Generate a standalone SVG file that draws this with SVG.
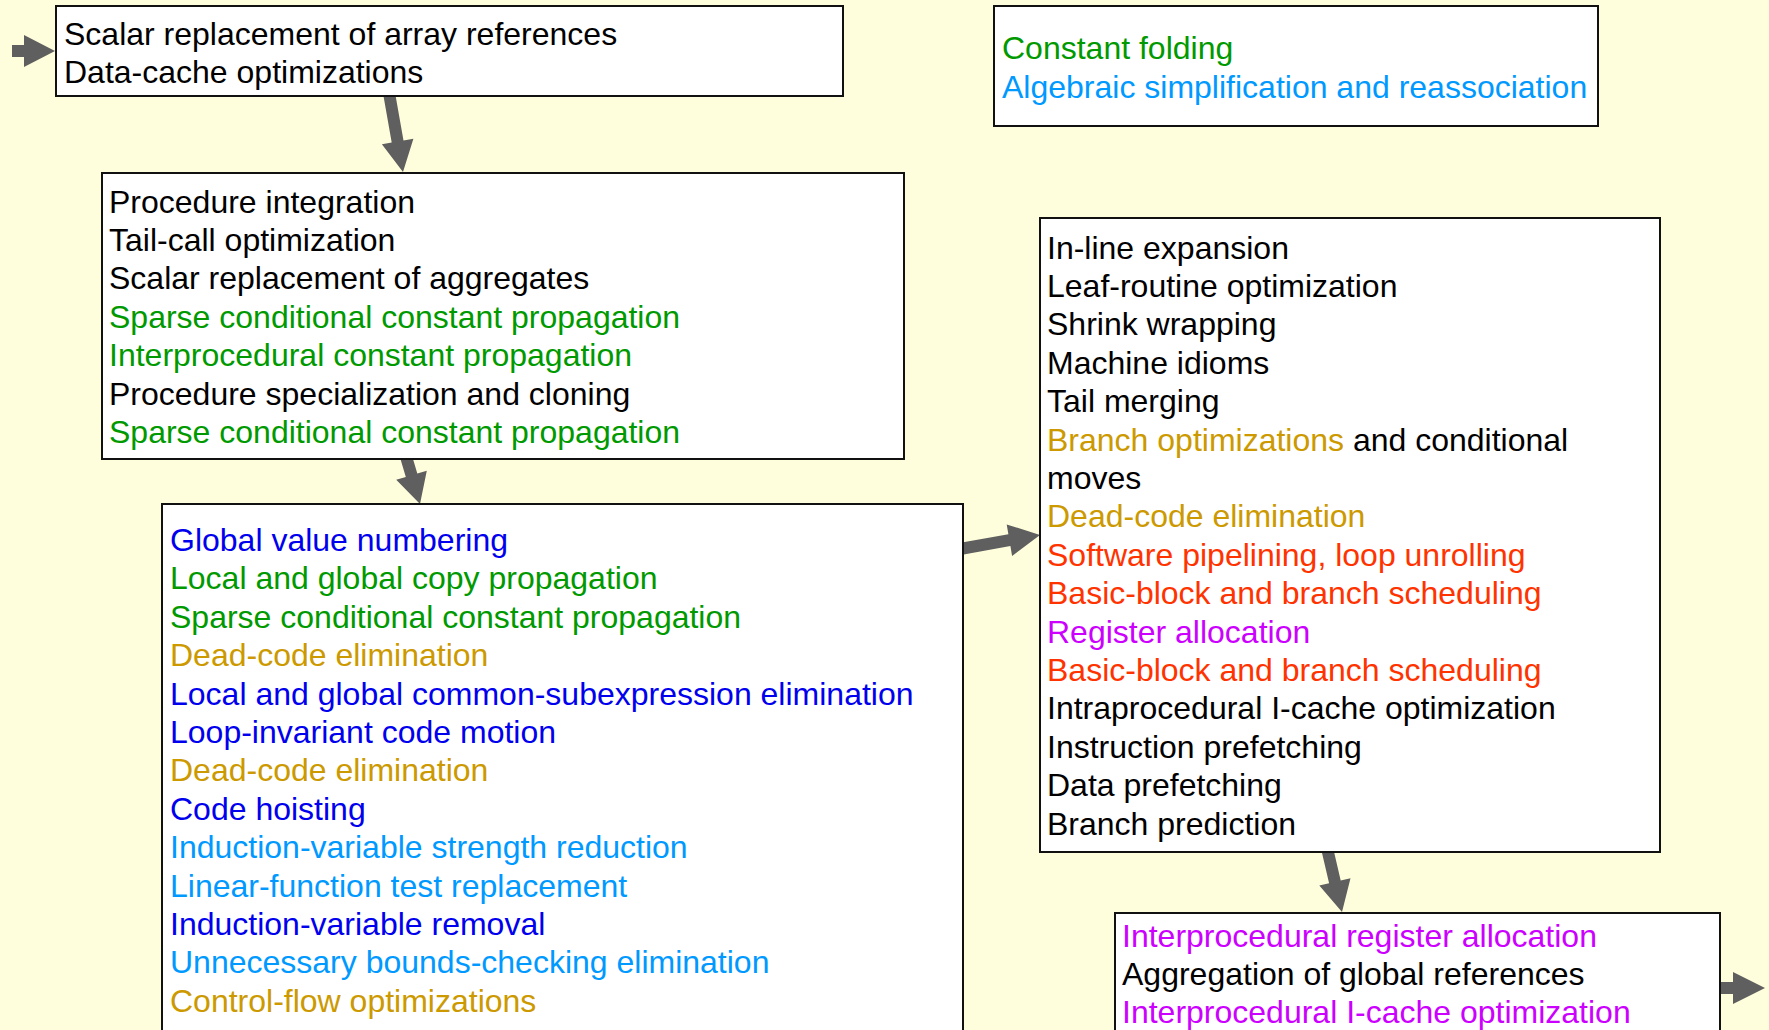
<svg xmlns="http://www.w3.org/2000/svg" width="1769" height="1030" viewBox="0 0 1769 1030">
<style>
.bg{fill:#FFFEDC}
.box{fill:#FFFFFF;stroke:#111111;stroke-width:2}
.arr{fill:#5F5F5F}
text{font-family:"Liberation Sans",Arial,sans-serif;font-size:32px;fill:#000000}
.g{fill:#009900}
.lb{fill:#0099FF}
.db{fill:#0000EE}
.o{fill:#CC9900}
.r{fill:#FF3300}
.m{fill:#CC00FF}
</style>
<rect class="bg" x="0" y="0" width="1769" height="1030"/>
<g id="connectors">
<polygon class="arr" points="12,45 24,45 24,35 55,51 24,67 24,57 12,57"/>
<polygon class="arr" points="394.4,89 403.5,140.5 413.4,138.7 403,172 381.9,144.3 391.7,142.5 382.6,91"/>
<polygon class="arr" points="411.3,453.3 417.3,473.5 426.8,470.7 420,504 396.2,479.7 405.8,476.9 399.8,456.7"/>
<polygon class="arr" points="959,543.1 1008.4,534.3 1006.7,524.4 1040,535 1012.1,556 1010.4,546.1 961,554.9"/>
<polygon class="arr" points="1332.8,846.6 1340.7,880.4 1350.5,878.2 1342,912 1319.3,885.5 1329.1,883.2 1321.2,849.4"/>
<polygon class="arr" points="1715,982 1733,982 1733,972 1765,988 1733,1004 1733,994 1715,994"/>
</g>
<g id="node-array-refs">
<rect class="box" x="56" y="6" width="787" height="90"/>
<text x="64" y="44.5">Scalar replacement of array references</text>
<text x="64" y="83">Data-cache optimizations</text>
</g>
<g id="node-constant-folding">
<rect class="box" x="994" y="6" width="604" height="120"/>
<text class="g" x="1002" y="58.5">Constant folding</text>
<text class="lb" x="1002" y="97.5">Algebraic simplification and reassociation</text>
</g>
<g id="node-procedure">
<rect class="box" x="102" y="173" width="802" height="286"/>
<text x="109" y="212.5">Procedure integration</text>
<text x="109" y="250.9">Tail-call optimization</text>
<text x="109" y="289.3">Scalar replacement of aggregates</text>
<text class="g" x="109" y="327.7">Sparse conditional constant propagation</text>
<text class="g" x="109" y="366.1">Interprocedural constant propagation</text>
<text x="109" y="404.5">Procedure specialization and cloning</text>
<text class="g" x="109" y="442.9">Sparse conditional constant propagation</text>
</g>
<g id="node-global">
<rect class="box" x="162" y="504" width="801" height="540"/>
<text class="db" x="170" y="551">Global value numbering</text>
<text class="g" x="170" y="589.4">Local and global copy propagation</text>
<text class="g" x="170" y="627.8">Sparse conditional constant propagation</text>
<text class="o" x="170" y="666.2">Dead-code elimination</text>
<text class="db" x="170" y="704.6">Local and global common-subexpression elimination</text>
<text class="db" x="170" y="743">Loop-invariant code motion</text>
<text class="o" x="170" y="781.4">Dead-code elimination</text>
<text class="db" x="170" y="819.8">Code hoisting</text>
<text class="lb" x="170" y="858.2">Induction-variable strength reduction</text>
<text class="lb" x="170" y="896.6">Linear-function test replacement</text>
<text class="db" x="170" y="935">Induction-variable removal</text>
<text class="lb" x="170" y="973.4">Unnecessary bounds-checking elimination</text>
<text class="o" x="170" y="1011.8">Control-flow optimizations</text>
</g>
<g id="node-inline">
<rect class="box" x="1040" y="218" width="620" height="634"/>
<text x="1047" y="258.5">In-line expansion</text>
<text x="1047" y="296.9">Leaf-routine optimization</text>
<text x="1047" y="335.3">Shrink wrapping</text>
<text x="1047" y="373.7">Machine idioms</text>
<text x="1047" y="412.1">Tail merging</text>
<text x="1047" y="450.5"><tspan class="o">Branch optimizations</tspan> and conditional</text>
<text x="1047" y="488.9">moves</text>
<text class="o" x="1047" y="527.3">Dead-code elimination</text>
<text class="r" x="1047" y="565.7">Software pipelining, loop unrolling</text>
<text class="r" x="1047" y="604.1">Basic-block and branch scheduling</text>
<text class="m" x="1047" y="642.5">Register allocation</text>
<text class="r" x="1047" y="680.9">Basic-block and branch scheduling</text>
<text x="1047" y="719.3">Intraprocedural I-cache optimization</text>
<text x="1047" y="757.7">Instruction prefetching</text>
<text x="1047" y="796.1">Data prefetching</text>
<text x="1047" y="834.5">Branch prediction</text>
</g>
<g id="node-interprocedural">
<rect class="box" x="1115" y="913" width="605" height="130"/>
<text class="m" x="1122" y="946.5">Interprocedural register allocation</text>
<text x="1122" y="985">Aggregation of global references</text>
<text class="m" x="1122" y="1023.4">Interprocedural I-cache optimization</text>
</g>
</svg>
